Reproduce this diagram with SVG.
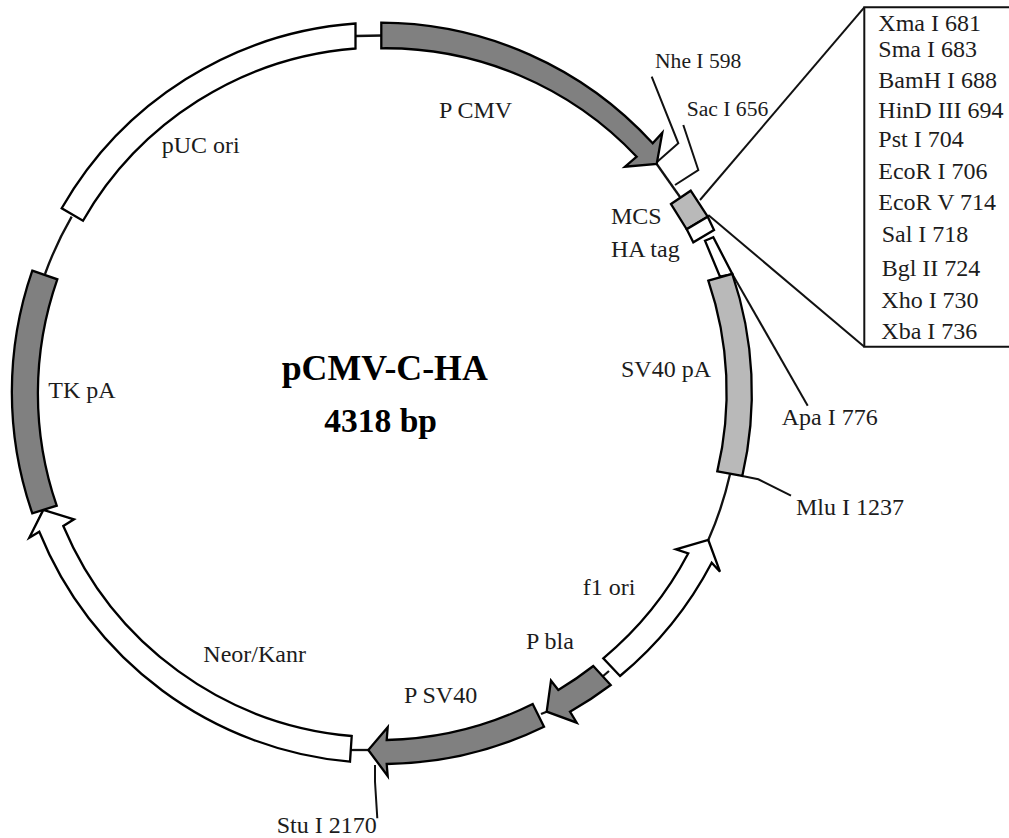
<svg xmlns="http://www.w3.org/2000/svg" width="1009" height="838" viewBox="0 0 1009 838">
<style>
text{font-family:"Liberation Serif","Times New Roman",serif;font-size:24px;fill:#1c1c1c}
.s{font-size:21.6px}
.t{font-weight:bold;fill:#000}
.f{stroke:#000;stroke-width:2.3;stroke-linejoin:miter}
.w{fill:#fff}.d{fill:#808080}.l{fill:#b9b9b9}
.c{fill:none;stroke:#111;stroke-width:2}
.b{stroke-width:2.3}
</style>
<rect width="1009" height="838" fill="#fff"/>
<g id="connectors">
<path class="c b" d="M355.5,36 L382,35.5"/>
<path class="c b" d="M656.7,164 L680,197"/>
<path class="c b" d="M730,474.3 A357,357 0 0 1 708.3,540"/>
<path class="c b" d="M602,677 L609,671"/>
<path class="c b" d="M546.7,711.7 L541,714"/>
<path class="c b" d="M368.3,750 L351,750"/>
<path class="c b" d="M43.3,510 L34,530"/>
<path class="c b" d="M45,274 A357,357 0 0 1 71.7,216.7"/>
<path class="c" d="M651.7,76.7 L678.3,143.3 L656.7,162.3"/>
<path class="c" d="M683.3,125 L698.3,170 L675,185"/>
<path class="c" d="M864.3,7.3 L700,200"/>
<path class="c" d="M864.3,346.7 L708.3,215"/>
<path class="c" d="M732.3,274 L807.7,405.7"/>
<path class="c" d="M742.3,476 L758.3,479.3 L791,495.7"/>
<path class="c" d="M375,765 L375,781.7 L377.3,818.3"/>
</g>
<g id="pUC-ori"><path class="f w" d="M355.5,23.5 A370,370 0 0 0 61.7,208.3 L83,220.7 A345,345 0 0 1 355.5,48.5 Z"/><text x="161.7" y="153.3">pUC ori</text></g>
<g id="P-CMV"><path class="f d" d="M381.3,22.7 A370,370 0 0 1 652.7,143.3 L662.3,132.7 L656.7,164 L625,166.7 L636.7,156.7 A345,345 0 0 0 381.3,48.3 Z"/><text x="439" y="118">P CMV</text></g>
<g id="Nhe-I"><text class="s" x="655" y="68.3">Nhe I 598</text></g>
<g id="Sac-I"><text class="s" x="686.7" y="116">Sac I 656</text></g>
<g id="MCS"><path class="f l" d="M671,204 L690.7,190.7 L707.7,216.7 L686.7,229.3 Z"/><text x="611" y="224">MCS</text></g>
<g id="HA-tag"><path class="f w" d="M686.7,229.3 L707.7,216.7 L714,230 L693.3,242.3 Z"/><text x="611" y="257.3">HA tag</text></g>
<g id="spacer"><path class="f w" d="M705,240.7 L713.3,237.3 L732.3,274 L720,276.7 Z"/></g>
<g id="SV40-pA"><path class="f l" d="M708.3,280.7 L732.3,274 A370,370 0 0 1 742.3,476 L717.3,471.3 A345,345 0 0 0 708.3,280.7 Z"/><text x="621" y="376.7">SV40 pA</text></g>
<g id="Apa-I"><text x="781.7" y="425">Apa I 776</text></g>
<g id="Mlu-I"><text x="796" y="515">Mlu I 1237</text></g>
<g id="f1-ori"><path class="f w" d="M603.3,658.3 A345,345 0 0 0 688.3,553.3 L676,549.3 L708.3,540 L720,571.7 L711.7,562.7 A370,370 0 0 1 620,676 Z"/><text x="582.7" y="595">f1 ori</text></g>
<g id="P-bla"><path class="f d" d="M593.3,666 A345,345 0 0 1 558.3,690 L551,680.7 L546.7,711.7 L576.7,722.7 L570,711.7 A370,370 0 0 0 610.7,685 Z"/><text x="526" y="649">P bla</text></g>
<g id="P-SV40"><path class="f d" d="M532.7,704 A345,345 0 0 1 386.7,740 L387.7,727.3 L368.3,750 L387.7,776 L386.7,764 A370,370 0 0 0 544,726.7 Z"/><text x="404" y="703.3">P SV40</text></g>
<g id="Stu-I"><text x="276.7" y="832.6">Stu I 2170</text></g>
<g id="Neo-Kan"><path class="f w" d="M351.7,736 A345,345 0 0 1 63.3,526 L74,519.3 L43.3,510 L29.3,537.7 L39.3,531.7 A370,370 0 0 0 350,761.7 Z"/><text x="203.3" y="661.7">Neor/Kanr</text></g>
<g id="TK-pA"><path class="f d" d="M32.3,270.7 L57.3,279.3 A345,345 0 0 0 56.7,505.7 L32.3,513.3 A370,370 0 0 1 32.3,270.7 Z"/><text x="48.3" y="398.3">TK pA</text></g>
<g id="title"><text class="t" x="281.7" y="380" style="font-size:35.8px">pCMV-C-HA</text><text class="t" x="324.3" y="431.7" style="font-size:33.5px">4318 bp</text></g>
<g id="site-list">
<path class="c" d="M1009,7.3 H864.3 V346.7 H1009"/>
<text x="878.3" y="30.7">Xma I 681</text>
<text x="878.3" y="57.3">Sma I 683</text>
<text x="878.3" y="88.3">BamH I 688</text>
<text x="878.3" y="117.7">HinD III 694</text>
<text x="878.3" y="146.7">Pst I 704</text>
<text x="878.3" y="179">EcoR I 706</text>
<text x="878.3" y="210">EcoR V 714</text>
<text x="881.7" y="242.3">Sal I 718</text>
<text x="881.7" y="276">Bgl II 724</text>
<text x="881.3" y="308.3">Xho I 730</text>
<text x="881.3" y="339.3">Xba I 736</text>
</g>
</svg>
